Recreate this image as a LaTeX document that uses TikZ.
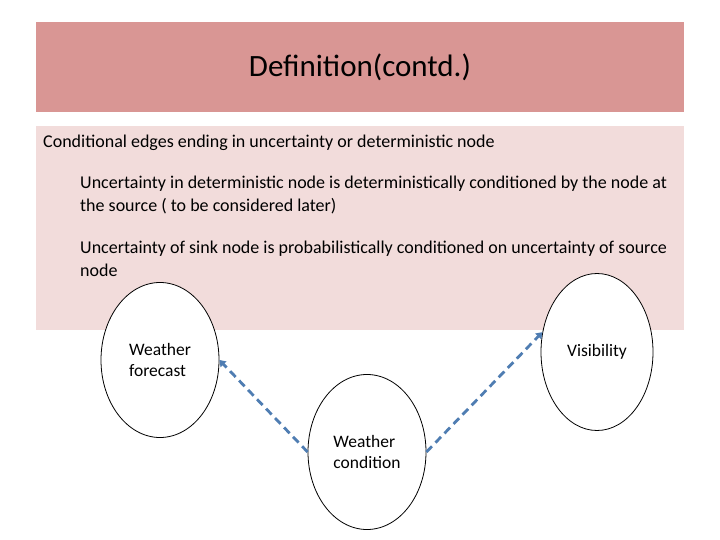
\documentclass[tikz,border=0pt]{standalone}
\usepackage{fontspec}
\setmainfont{Carlito}
\usepackage{tikz}
\usetikzlibrary{shapes.geometric,arrows.meta}
\definecolor{titlered}{RGB}{217,150,148}
\definecolor{bodypink}{RGB}{242,220,219}
\definecolor{linkblue}{RGB}{79,125,178}

\begin{document}
\begin{tikzpicture}[x=1pt,y=-1pt,
  varnode/.style={ellipse,draw=black,line width=0.8pt,fill=white,inner sep=0pt,
    minimum width=118pt,minimum height=155pt,align=left,font=\fontsize{17.5}{21.5}\selectfont},
  bodytext/.style={anchor=north west,inner sep=0pt,align=left,font=\fontsize{18}{23}\selectfont},
  link/.style={-{Triangle[width=8pt,length=6pt]},linkblue,line width=2.8pt,dash pattern=on 8pt off 5pt}]
\useasboundingbox (0,0) rectangle (720,540);
\fill[white] (0,0) rectangle (720,540);
\fill[titlered] (36,22) rectangle (684,112);
\fill[bodypink] (36,126) rectangle (684,330);
\node[font=\fontsize{31}{36}\selectfont] (title) at (360,67) {Definition(contd.)};
\node[anchor=base west,inner sep=0pt,font=\fontsize{18}{22}\selectfont] (main) at (43,148) {Conditional edges ending in uncertainty or deterministic node};
\node[bodytext] (sub1) at (80,176) {Uncertainty in deterministic node is deterministically conditioned by the node at\\ the source ( to be considered later)};
\node[bodytext] (sub2) at (80,241) {Uncertainty of sink node is probabilistically conditioned on uncertainty of source\\ node};
\node[varnode] (fore) at (160,360) {Weather\\forecast};
\node[varnode] (cond) at (367,452) {Weather\\condition};
\node[varnode,minimum width=112pt,minimum height=157pt] (vis) at (597,352) {Visibility};
\draw[link] (cond.west) -- (fore.east);
\draw[link] (cond.east) -- (vis.160);
\end{tikzpicture}
\end{document}
